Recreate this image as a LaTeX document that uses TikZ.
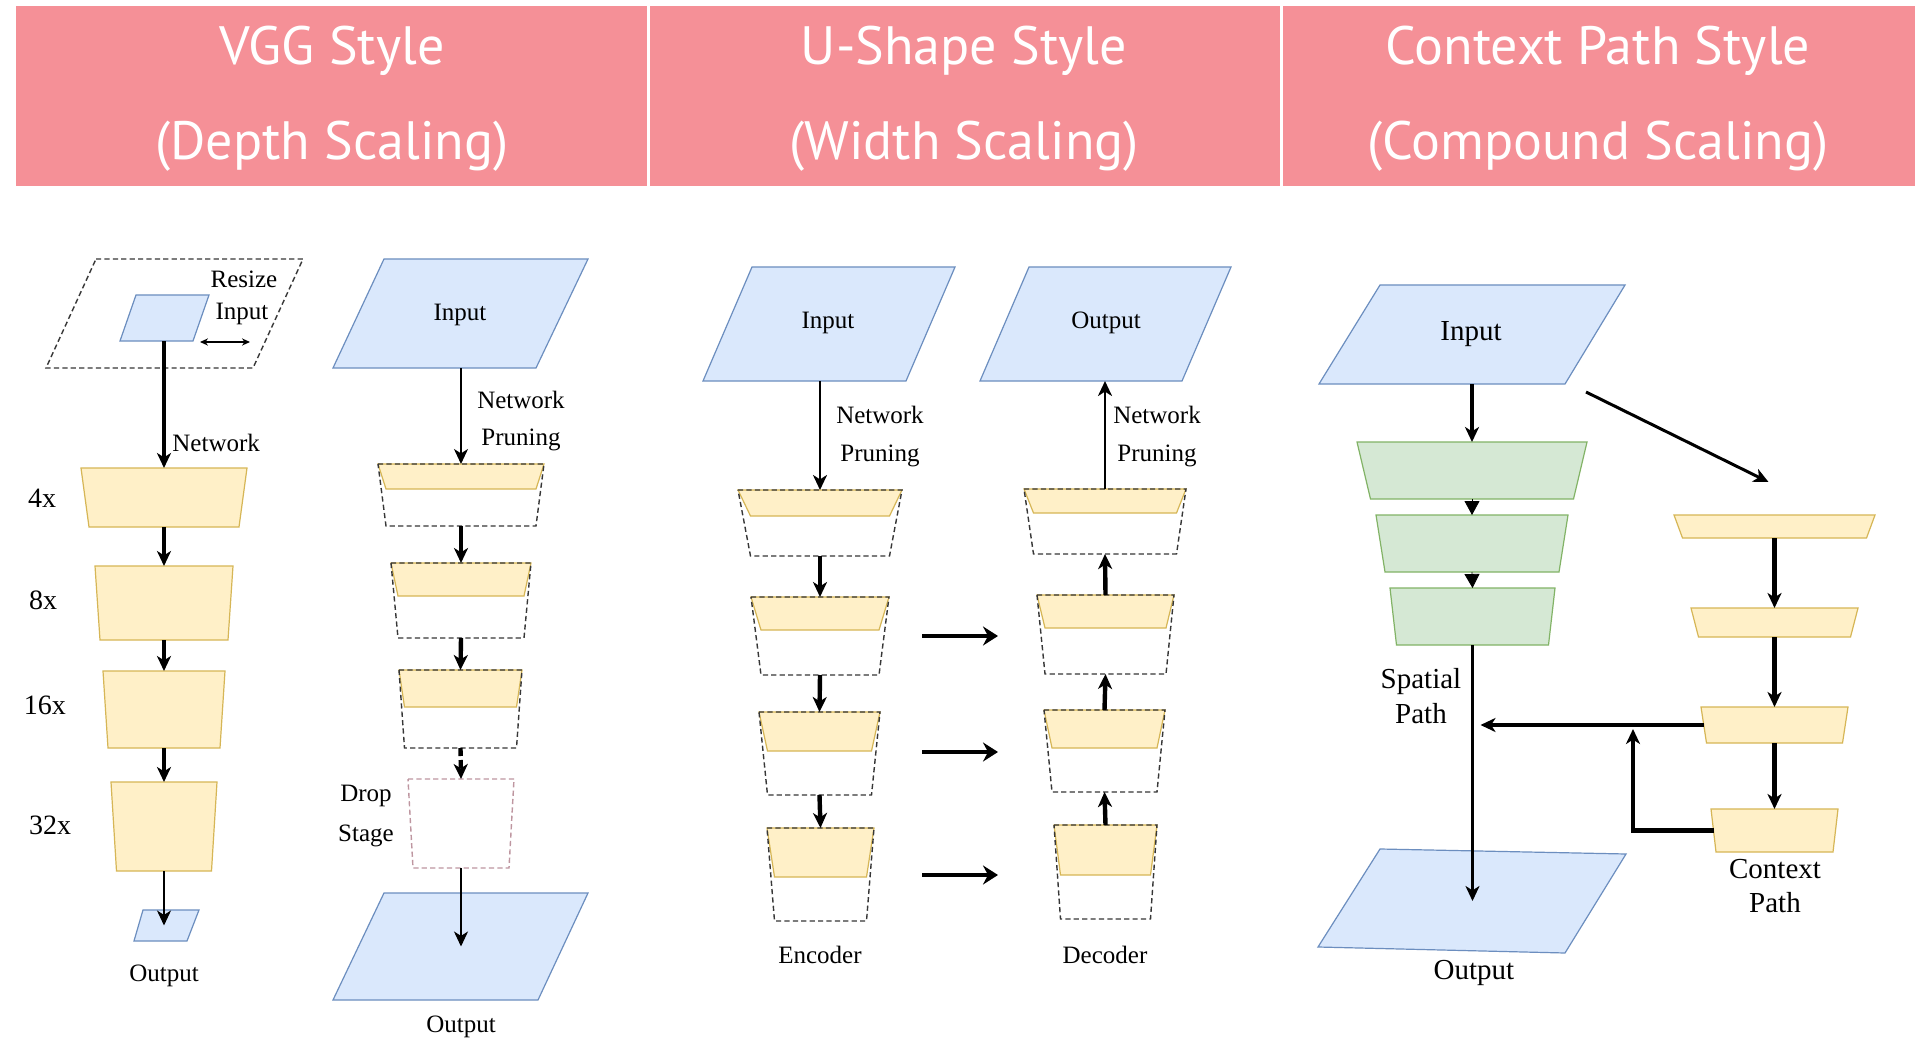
\documentclass[tikz,border=0pt]{standalone}
\usepackage{fontspec}
\setmainfont{Liberation Serif}
\newfontfamily\headfont{PT Sans}
\usetikzlibrary{arrows.meta,calc}

\definecolor{headpink}{RGB}{245,144,151}
\definecolor{bluefill}{HTML}{DAE8FC}
\definecolor{blueline}{HTML}{6C8EBF}
\definecolor{yelfill}{HTML}{FFF0C8}
\definecolor{yelline}{HTML}{D6B656}
\definecolor{grnfill}{HTML}{D5E8D4}
\definecolor{grnline}{HTML}{82B366}
\definecolor{dropline}{RGB}{190,150,160}
\definecolor{dashgray}{RGB}{55,55,55}

\tikzset{
  bluebox/.style={fill=bluefill, draw=blueline, line width=0.6pt},
  yelbox/.style={fill=yelfill, draw=yelline, line width=0.6pt},
  grnbox/.style={fill=grnfill, draw=grnline, line width=0.6pt},
  dashbox/.style={draw=dashgray, line width=0.7pt, dash pattern=on 2.6pt off 1.6pt},
  dropbox/.style={draw=dropline, line width=0.7pt, dash pattern=on 2.6pt off 1.6pt},
  tip/.style={-{Stealth[length=7.5pt,width=7pt,inset=2.2pt]}},
  thickarr/.style={tip, line width=2.2pt},
  midarr/.style={tip, line width=1.3pt},
  thinarr/.style={tip, line width=0.9pt},
  skiparr/.style={-{Stealth[length=7.5pt,width=9.5pt,inset=2.5pt]}, line width=2.4pt},
  txt/.style={inner sep=0pt, align=center, text=black, font=\fontsize{12.5}{18.5}\selectfont},
  txtbig/.style={inner sep=0pt, align=center, text=black, font=\fontsize{14.5}{17.5}\selectfont},
  scaletxt/.style={inner sep=0pt, text=black, font=\fontsize{14}{17}\selectfont},
  headtxt/.style={inner sep=0pt, anchor=base, text=white, font=\headfont\fontsize{27}{32}\selectfont},
}

% trapezoid block: name, centre x, top y, bottom y, top half width, bottom half width, style
\newcommand\trapz[7]{%
  \path[#7] ({#2-#5},#3) -- ({#2+#5},#3) -- ({#2+#6},#4) -- ({#2-#6},#4) -- cycle;
  \coordinate (#1-n) at (#2,#3);
  \coordinate (#1-s) at (#2,#4);
  \coordinate (#1-w) at ($({#2-#5},#3)!0.5!({#2-#6},#4)$);
}
% pruned block: yellow kept part over a dashed full outline
% name, centre x, top y, kept bottom y, full bottom y, top half width, bottom half width
\newcommand\prunedblock[7]{%
  \path[yelbox] ({#2-#6},#3) -- ({#2+#6},#3) -- ({#2+#7},#4) -- ({#2-#7},#4) -- cycle;
  \path[dashbox] ({#2-#6},#3) -- ({#2+#6},#3) -- ({#2+#7},#5) -- ({#2-#7},#5) -- cycle;
  \coordinate (#1-n) at (#2,#3);
  \coordinate (#1-s) at (#2,#5);
}
% parallelogram: name, top-left, top-right, bottom-right, bottom-left, style
\newcommand\paragram[6]{%
  \path[#6] (#2) -- (#3) -- (#4) -- (#5) -- cycle;
  \coordinate (#1-n) at ($(#2)!0.5!(#3)$);
  \coordinate (#1-s) at ($(#5)!0.5!(#4)$);
  \coordinate (#1-c) at ($(#2)!0.5!(#4)$);
  \coordinate (#1-se) at (#4);
}

\begin{document}
\begin{tikzpicture}[x=0.5pt, y=-0.5pt]
\path[use as bounding box, fill=white] (0,0) rectangle (1917,1043);

% ---------- title band ----------
\fill[headpink] (16,6) rectangle (1915,186);
\draw[white, line width=1.5pt] (648,6) -- (648,186);
\draw[white, line width=1.5pt] (1281,6) -- (1281,186);
\node[headtxt] (h1a) at (332,65) {VGG Style};
\node[headtxt] (h1b) at (332,160) {(Depth Scaling)};
\node[headtxt] (h2a) at (964,65) {U-Shape Style};
\node[headtxt] (h2b) at (964,160) {(Width Scaling)};
\node[headtxt] (h3a) at (1598,65) {Context Path Style};
\node[headtxt] (h3b) at (1598,160) {(Compound Scaling)};

% ---------- VGG: resize input ----------
\paragram{rframe}{96,259}{303,259}{253,368}{46,368}{dashbox}
\paragram{rin}{136,295}{209,295}{193,341}{120,341}{bluebox}
\node[txt] (tresize) at (244,279) {Resize};
\node[txt] (tinput1) at (242,314) {Input};
\coordinate (rz0) at (200,342);
\coordinate (rz1) at (250,342);
\trapz{v4}{164}{468}{527}{83}{75}{yelbox}
\trapz{v8}{164}{566}{640}{69}{64}{yelbox}
\trapz{v16}{164}{671}{748}{61}{56}{yelbox}
\trapz{v32}{164}{782}{871}{53}{47.5}{yelbox}
\paragram{vout}{143,910}{199,910}{187,941}{134,941}{bluebox}
\node[txt, anchor=west] (tnet1) at (172,443) {Network};
\node[scaletxt] (s4) at (42,498) {4x};
\node[scaletxt] (s8) at (43,600) {8x};
\node[scaletxt] (s16) at (45,705) {16x};
\node[scaletxt] (s32) at (50,825) {32x};
\node[txt] (tout1) at (164,976) {Output};

\draw[{Stealth[length=4pt,width=3.6pt]}-{Stealth[length=4pt,width=3.6pt]}, line width=0.6pt] (rz0) -- (rz1);
\draw[thickarr] (rin-s -| v4-n) -- (v4-n);
\draw[thickarr] (v4-s) -- (v8-n);
\draw[thickarr] (v8-s) -- (v16-n);
\draw[thickarr] (v16-s) -- (v32-n);
\draw[thinarr] (v32-s) -- (v32-s |- vout-c);

% ---------- VGG: network pruning ----------
\paragram{pin}{384,259}{588,259}{536,368}{333,368}{bluebox}
\node[txt] (tpin) at (460,315) {Input};
\prunedblock{p1}{461}{464}{489}{526}{83}{75}
\prunedblock{p2}{461}{563}{596}{638}{70}{63}
\prunedblock{p3}{460.5}{670}{707}{748}{61.5}{56}
\trapz{drop}{461}{779}{868}{53}{48}{dropbox}
\paragram{pout}{384,893}{588,893}{538,1000}{333,1000}{bluebox}
\node[txt] (tnp1) at (521,421) {Network\\Pruning};
\node[txt, font=\fontsize{12.5}{20}\selectfont] (tdrop) at (366,816) {Drop\\Stage};
\node[txt] (tpout) at (461,1027) {Output};

\draw[thinarr] (pin-s -| p1-n) -- (p1-n);
\draw[thickarr] (p1-s) -- (p2-n);
\draw[thickarr] (p2-s) -- (p3-n);
\draw[thickarr, dash pattern=on 4pt off 2pt] (p3-s) -- (drop-n);
\draw[thinarr] (drop-s) -- (drop-s |- pout-c);

% ---------- U-shape: encoder ----------
\paragram{uin}{752,267}{955,267}{906,381}{703,381}{bluebox}
\node[txt] (tuin) at (828,323) {Input};
\prunedblock{e1}{820}{490}{516}{556}{82}{69.5}
\prunedblock{e2}{820}{597}{630}{675}{69}{59}
\prunedblock{e3}{819.5}{712}{751}{795}{60.5}{52}
\prunedblock{e4}{820.5}{828}{877}{921}{53.5}{46}
\node[txt, font=\fontsize{12.5}{19}\selectfont] (tnp2) at (880,437) {Network\\Pruning};
\node[txt] (tenc) at (820,955) {Encoder};

% ---------- U-shape: decoder ----------
\paragram{uout}{1029,267}{1231,267}{1182,381}{980,381}{bluebox}
\node[txt] (tuout) at (1106,323) {Output};
\prunedblock{d1}{1105}{489}{513}{554}{81}{71.5}
\prunedblock{d2}{1105.5}{595}{628}{674}{68.5}{60.5}
\prunedblock{d3}{1104.5}{710}{748}{792}{60.5}{52.5}
\prunedblock{d4}{1105.5}{825}{875}{919}{51.5}{45}
\node[txt, font=\fontsize{12.5}{19}\selectfont] (tnp3) at (1157,437) {Network\\Pruning};
\node[txt] (tdec) at (1105,955) {Decoder};

\draw[midarr] (uin-s -| e1-n) -- (e1-n);
\draw[thickarr] (e1-s) -- (e2-n);
\draw[thickarr] (e2-s) -- (e3-n);
\draw[thickarr] (e3-s) -- (e4-n);
\draw[thickarr] (d4-n) -- (d3-s);
\draw[thickarr] (d3-n) -- (d2-s);
\draw[thickarr] (d2-n) -- (d1-s);
\draw[midarr] (d1-n) -- (d1-n |- uout-s);

% skip connections
\coordinate (sk1a) at (922,636);  \coordinate (sk1b) at (998,636);
\coordinate (sk2a) at (922,752);  \coordinate (sk2b) at (998,752);
\coordinate (sk3a) at (922,875);  \coordinate (sk3b) at (998,875);
\draw[skiparr] (sk1a) -- (sk1b);
\draw[skiparr] (sk2a) -- (sk2b);
\draw[skiparr] (sk3a) -- (sk3b);

% ---------- Context path ----------
\paragram{cin}{1380,285}{1625,285}{1565,384}{1319,384}{bluebox}
\node[txtbig] (tcin) at (1471,334) {Input};
\trapz{g1}{1472}{442}{499}{115}{101.5}{grnbox}
\trapz{g2}{1472}{515}{572}{96}{87}{grnbox}
\trapz{g3}{1472.5}{588}{645}{82.5}{76}{grnbox}
\trapz{c1}{1774.5}{515}{538}{100.5}{92}{yelbox}
\trapz{c2}{1774.5}{608}{637}{83.5}{76}{yelbox}
\trapz{c3}{1774.5}{707}{743}{73.5}{68}{yelbox}
\trapz{c4}{1774.5}{809}{852}{63.5}{58.5}{yelbox}
\paragram{cout}{1380,849}{1626,854}{1565,953}{1318,947}{bluebox}
\node[txtbig] (tcout) at (1474,973) {Output};
\node[txtbig] (tsp) at (1421,696) {Spatial\\Path};
\node[txtbig, font=\fontsize{14.5}{17}\selectfont] (tcp) at (1775,886) {Context\\Path};

% diagonal feed from the input into the context path
\coordinate (dg0) at ($(cin-se)+(21,8)$);
\coordinate (dg1) at ($(c1-n)+(-6,-33)$);
\coordinate (jn) at (1633,724);

\draw[thickarr] (cin-s -| g1-n) -- (g1-n);
\draw[line width=0.4pt, -{Triangle[length=7pt,width=7.5pt]}] (g1-s) -- (g2-n);
\draw[line width=0.4pt, -{Triangle[length=7pt,width=7.5pt]}] (g2-s) -- (g3-n);
\draw[tip, line width=1.2pt] (g3-s) -- (cout-c);
\draw[tip, line width=1.5pt] (dg0) -- (dg1);
\draw[thickarr] (c1-s) -- (c2-n);
\draw[thickarr] (c2-s) -- (c3-n);
\draw[thickarr] (c3-s) -- (c4-n);
\draw[thickarr, shorten >=4pt] (c3-w) -- (c3-w -| g3-s);
\draw[thickarr, shorten >=2.5pt] (c4-w) -| (jn);
\end{tikzpicture}
\end{document}
